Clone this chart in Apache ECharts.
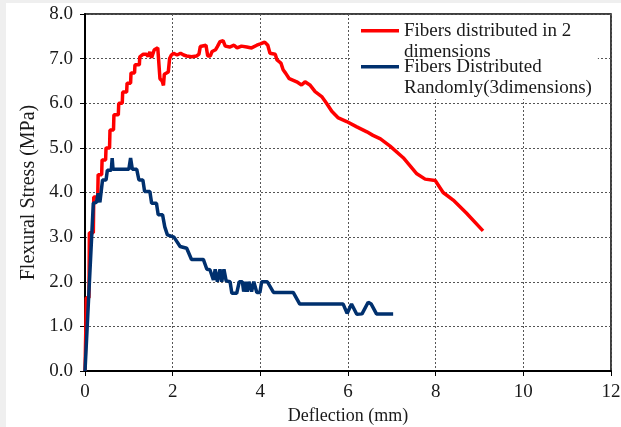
<!DOCTYPE html>
<html>
<head>
<meta charset="utf-8">
<title>Flexural stress vs deflection</title>
<script src="https://cdn.jsdelivr.net/npm/echarts@6.0.0/dist/echarts.min.js"></script>
<style>
	html, body { margin: 0; padding: 0; background: #efefef; }
	#main { position: absolute; left: 6px; top: 3px; width: 615px; height: 424px; background: #fff; }
</style>
</head>
<body>
<div id="main"></div>
<script>
// deflection (mm), flexural stress (MPa)
var fibers2D = [
	[0,0],[0.02,1.0],[0.03,1.64],[0.09,1.64],[0.1,3.1],[0.19,3.1],[0.2,3.9],[0.29,3.9],
	[0.3,4.4],[0.38,4.4],[0.39,4.73],[0.47,4.73],[0.48,5.0],[0.56,5.0],[0.57,5.4],[0.65,5.4],
	[0.66,5.74],[0.76,5.74],[0.77,6.0],[0.85,6.0],[0.86,6.25],[0.95,6.25],[0.96,6.45],[1.04,6.45],
	[1.05,6.68],[1.13,6.68],[1.14,6.86],[1.24,6.86],[1.25,7.04],[1.33,7.1],[1.4,7.1],[1.44,7.05],
	[1.48,7.15],[1.52,7.02],[1.56,7.0],[1.58,7.2],[1.66,7.24],[1.69,7.24],[1.71,6.55],[1.76,6.5],
	[1.79,6.4],[1.81,6.65],[1.9,6.7],[1.93,7.0],[1.97,7.08],[2.02,7.12],[2.1,7.08],[2.18,7.12],
	[2.25,7.08],[2.32,7.06],[2.43,7.04],[2.55,7.06],[2.6,7.1],[2.63,7.27],[2.76,7.3],[2.8,7.06],
	[2.86,7.06],[2.9,7.16],[2.98,7.2],[3.02,7.27],[3.08,7.38],[3.15,7.4],[3.2,7.28],[3.3,7.26],
	[3.4,7.3],[3.47,7.24],[3.57,7.28],[3.69,7.26],[3.8,7.24],[3.92,7.3],[4.0,7.33],[4.1,7.37],
	[4.17,7.3],[4.22,7.12],[4.34,7.1],[4.38,6.97],[4.47,6.9],[4.52,6.75],[4.58,6.67],[4.66,6.55],
	[4.83,6.48],[4.94,6.41],[5.02,6.48],[5.13,6.41],[5.25,6.26],[5.4,6.15],[5.51,6.0],[5.63,5.82],
	[5.78,5.67],[5.97,5.59],[6.2,5.47],[6.43,5.36],[6.57,5.28],[6.74,5.2],[6.96,5.04],[7.26,4.78],
	[7.57,4.42],[7.76,4.3],[7.99,4.27],[8.17,4.0],[8.4,3.83],[8.7,3.54],[9.08,3.14]
];
var fibers3D = [
	[0,0],[0.19,3.76],[0.22,3.8],[0.26,3.78],[0.3,3.98],[0.34,3.78],[0.38,3.8],[0.4,4.28],
	[0.48,4.28],[0.51,4.5],[0.6,4.5],[0.62,4.77],[0.64,4.52],[0.8,4.52],[1.0,4.52],[1.04,4.77],
	[1.08,4.52],[1.18,4.52],[1.23,4.28],[1.32,4.28],[1.36,4.02],[1.48,4.02],[1.52,3.76],[1.63,3.76],
	[1.67,3.5],[1.77,3.5],[1.82,3.23],[1.88,3.05],[2.03,3.0],[2.17,2.79],[2.32,2.75],[2.43,2.5],
	[2.7,2.5],[2.78,2.28],[2.85,2.27],[2.93,2.04],[2.97,2.28],[3.02,2.0],[3.08,2.28],[3.12,2.0],
	[3.17,2.28],[3.22,2.02],[3.31,2.0],[3.35,1.74],[3.46,1.74],[3.52,2.0],[3.59,2.0],[3.62,1.78],
	[3.66,2.0],[3.7,1.78],[3.74,2.0],[3.8,1.78],[3.85,2.0],[3.92,1.76],[3.99,1.76],[4.03,2.0],
	[4.16,2.0],[4.3,1.76],[4.75,1.76],[4.9,1.5],[5.89,1.5],[5.98,1.29],[6.08,1.5],[6.2,1.27],
	[6.32,1.28],[6.46,1.54],[6.53,1.5],[6.65,1.28],[7.03,1.28]
];
var seriesNames = ['Fibers distributed in 2\ndimensions', 'Fibers Distributed\nRandomly(3dimensions)'];
var seriesColors = ['#ff0000', '#00306e'];
var xRange = [0, 12, 2];
var yRange = [0, 8, 1];

(function(){
	var font = 'Liberation Serif';
	var txt = '#1a1a1a';
	// line at the first text row of each legend item
	var legendIcon = 'path://M0,0h0.01v0.01h-0.01z M0,9.1h38v3.3h-38z M37.99,42.99h0.01v0.01h-0.01z';

	var chart = echarts.init(document.getElementById('main'));
	chart.setOption({
		animation: false,
		textStyle: { fontFamily: font },
		grid: { left: 79, right: 10, top: 11, bottom: 56, outerBoundsMode: 'none',
			show: true, borderColor: '#000', borderWidth: 1.5 },
		legend: {
			orient: 'vertical',
			left: 344, top: 12,
			padding: [5, 6, 0, 11],
			itemGap: -7,
			itemWidth: 38, itemHeight: 43,
			icon: legendIcon,
			itemStyle: { borderWidth: 0 },
			backgroundColor: '#fff',
			selectedMode: false,
			textStyle: { fontFamily: font, fontSize: 19, lineHeight: 21.5, color: txt },
			data: seriesNames
		},
		xAxis: {
			type: 'value',
			min: xRange[0], max: xRange[1], interval: xRange[2],
			name: 'Deflection (mm)', nameLocation: 'middle', nameGap: 31,
			nameTextStyle: { fontFamily: font, fontSize: 18, color: txt },
			axisLine: { onZero: false, lineStyle: { color: '#000', width: 2 } },
			axisTick: { show: true, inside: false, length: 5, lineStyle: { color: '#000', width: 1 } },
			axisLabel: { margin: 12, fontFamily: font, fontSize: 19, color: txt },
			splitLine: { show: true, lineStyle: { color: '#555', width: 1, type: [2, 2] } }
		},
		yAxis: {
			type: 'value',
			min: yRange[0], max: yRange[1], interval: yRange[2],
			name: 'Flexural Stress (MPa)', nameLocation: 'middle', nameGap: 45,
			nameTextStyle: { fontFamily: font, fontSize: 20, color: txt },
			axisLine: { show: true, onZero: false, lineStyle: { color: '#000', width: 2 } },
			axisTick: { show: true, inside: false, length: 5, lineStyle: { color: '#000', width: 1 } },
			axisLabel: { margin: 12, fontFamily: font, fontSize: 19, color: txt,
				formatter: function(v){ return v.toFixed(1); } },
			splitLine: { show: true, lineStyle: { color: '#555', width: 1, type: [2, 2] } }
		},
		series: [
			{ name: seriesNames[0], type: 'line', data: fibers2D, symbol: 'none', showSymbol: false,
				color: seriesColors[0], lineStyle: { color: seriesColors[0], width: 3.5 } },
			{ name: seriesNames[1], type: 'line', data: fibers3D, symbol: 'none', showSymbol: false,
				color: seriesColors[1], lineStyle: { color: seriesColors[1], width: 3.5 } }
		]
	});
})();
</script>
</body>
</html>
